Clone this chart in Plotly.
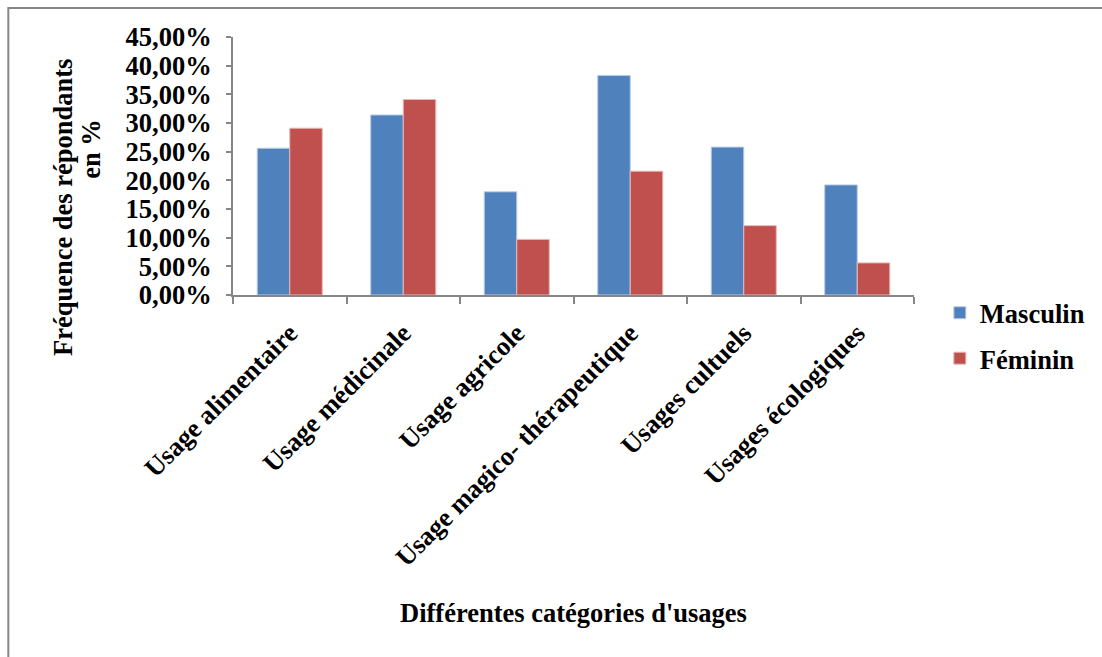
import plotly.graph_objects as go

# Catégories d'usage et fréquences (%) par sexe
categories = [
    "Usage alimentaire",
    "Usage médicinale",
    "Usage agricole",
    "Usage magico- thérapeutique",
    "Usages cultuels",
    "Usages écologiques",
]
masculin = [25.6, 31.4, 18.0, 38.3, 25.8, 19.2]
feminin = [29.1, 34.1, 9.7, 21.6, 12.1, 5.6]

y_ticks = [0, 5, 10, 15, 20, 25, 30, 35, 40, 45]
y_tick_labels = ["0,00%", "5,00%", "10,00%", "15,00%", "20,00%",
                 "25,00%", "30,00%", "35,00%", "40,00%", "45,00%"]

FONT = "Liberation Serif, Times New Roman, serif"
FS = 26.5
AXIS_GREY = "#868686"
TXT = dict(family=FONT, size=FS, color="black", weight=700)

fig = go.Figure()
fig.add_trace(go.Bar(
    x=categories, y=masculin, name="Masculin", legendgroup="m",
    marker=dict(color="#4F81BD", line=dict(color="#B9CDE5", width=1)),
))
fig.add_trace(go.Bar(
    x=categories, y=feminin, name="Féminin", legendgroup="f",
    marker=dict(color="#C0504D", line=dict(color="#E6B9B8", width=1)),
))

# plot area in pixels: x 233..918, y 37..295
L, R, T, B = 233, 184, 37, 362
W, H = 1102, 657
pw, ph = W - L - R, H - T - B


def px_x(x):
    return (x - L) / pw


def px_y(y):
    return (H - B - y) / ph


fig.update_layout(
    width=W, height=H,
    margin=dict(l=L, r=R, t=T, b=B),
    paper_bgcolor="white", plot_bgcolor="white",
    font=TXT,
    barmode="group", bargap=0.427, bargroupgap=0,
    showlegend=True,
    legend=dict(
        x=px_x(944), y=px_y(289), xanchor="left", yanchor="top",
        font=TXT, tracegroupgap=8, traceorder="grouped",
        bgcolor="rgba(0,0,0,0)",
    ),
    xaxis=dict(
        showline=True, linecolor=AXIS_GREY, linewidth=2,
        ticks="outside", tickson="boundaries", ticklen=7,
        tickcolor=AXIS_GREY, tickwidth=2,
        tickangle=-45, ticklabelstandoff=10,
        tickfont=TXT, showgrid=False,
    ),
    yaxis=dict(
        range=[0, 45], tickvals=y_ticks, ticktext=y_tick_labels,
        showline=True, linecolor=AXIS_GREY, linewidth=2,
        ticks="outside", ticklen=5, tickcolor=AXIS_GREY, tickwidth=2,
        ticklabelstandoff=9,
        tickfont=TXT, showgrid=False, zeroline=False,
    ),
    shapes=[
        # frame around the chart area
        dict(type="rect", xref="paper", yref="paper",
             x0=px_x(7), x1=px_x(1110), y0=px_y(670), y1=px_y(8),
             line=dict(color=AXIS_GREY, width=2), fillcolor="rgba(0,0,0,0)",
             layer="below"),
    ],
    annotations=[
        dict(text="Fréquence des répondants", textangle=-90,
             xref="paper", yref="paper", x=px_x(62), y=px_y(207),
             xanchor="center", yanchor="middle", showarrow=False, font=TXT),
        dict(text="en %", textangle=-90,
             xref="paper", yref="paper", x=px_x(90), y=px_y(149),
             xanchor="center", yanchor="middle", showarrow=False, font=TXT),
        dict(text="Différentes catégories d'usages",
             xref="paper", yref="paper", x=px_x(575), y=px_y(613),
             xanchor="center", yanchor="middle", showarrow=False, font=TXT),
    ],
)

fig.write_html("out.html")
